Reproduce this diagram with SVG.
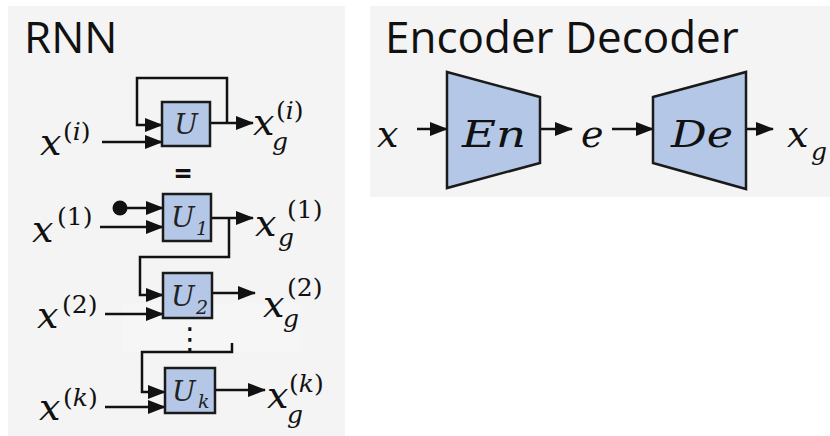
<svg xmlns="http://www.w3.org/2000/svg" width="830" height="436" viewBox="0 0 830 436">
  <defs>
    <marker id="ah" markerUnits="userSpaceOnUse" markerWidth="18" markerHeight="14" refX="17" refY="7" orient="auto" viewBox="0 0 18 14">
      <path d="M0,0 L18,7 L0,14 z" fill="#111"/>
    </marker>
  </defs>
  <style>
    .panel { fill: #f4f4f4; }
    .title { font-family: "Open Sans", "Liberation Sans", sans-serif; font-size: 44px; fill: #111; }
    .m { font-family: "DejaVu Serif", "Liberation Serif", serif; font-style: italic; font-size: 38px; fill: #111; }
    .s { font-family: "DejaVu Serif", "Liberation Serif", serif; font-style: italic; font-size: 25px; fill: #111; }
    .r { font-style: normal; }
    .box { fill: #b4c7e7; stroke: #1a1a1a; stroke-width: 2.5; }
    .blk { font-family: "DejaVu Serif", "Liberation Serif", serif; font-style: italic; font-size: 28px; fill: #222; }
    .sub { font-size: 19px; }
    .wire { fill: none; stroke: #111; stroke-width: 2.5; }
    .arr { marker-end: url(#ah); }
  </style>

  <!-- RNN panel -->
  <g id="rnn-panel">
    <rect class="panel" x="8" y="6" width="337" height="430"/>
    <rect x="123" y="303" width="177" height="49" fill="#f6f6f6"/>
    <text class="title" x="24" y="53">RNN</text>
    <text x="183" y="184" font-family="Open Sans, Liberation Sans, sans-serif" font-weight="bold" font-size="30" fill="#111" text-anchor="middle">=</text>
    <text x="190" y="349" font-family="DejaVu Sans, sans-serif" font-size="30" fill="#111" text-anchor="middle">⋮</text>
  </g>

  <!-- Encoder-decoder panel -->
  <g id="ed-panel">
    <rect class="panel" x="370" y="6" width="460" height="191"/>
    <text class="title" x="385" y="53" font-size="45">Encoder Decoder</text>
  </g>

  <!-- connectors -->
  <g id="wires">
    <!-- recurrent cell -->
    <path class="wire arr" d="M227,123 V78 H137 V125 H162"/>
    <path class="wire arr" d="M210,123 H253"/>
    <path class="wire arr" d="M102,142 H162"/>
    <!-- unrolled step 1 -->
    <circle cx="120" cy="208" r="7.5" fill="#111"/>
    <path class="wire arr" d="M120,208 H163"/>
    <path class="wire arr" d="M100,227 H163"/>
    <path class="wire arr" d="M211,218 H253"/>
    <path class="wire arr" d="M229,218 V257 H140 V295 H163"/>
    <!-- unrolled step 2 -->
    <path class="wire arr" d="M105,314 H163"/>
    <path class="wire arr" d="M212,293 H255"/>
    <!-- unrolled step k -->
    <path class="wire arr" d="M232,343 V352 H142 V392 H165"/>
    <path class="wire arr" d="M105,407 H165"/>
    <path class="wire arr" d="M215,390 H265"/>
    <!-- encoder / decoder -->
    <path class="wire arr" d="M417,129 H447"/>
    <path class="wire arr" d="M540,129 H572"/>
    <path class="wire arr" d="M612,129 H653"/>
    <path class="wire arr" d="M746,129 H773"/>
  </g>

  <!-- cells -->
  <g id="cell-u">
    <rect class="box" x="162" y="102" width="48" height="44"/>
    <text class="blk" x="186" y="134" text-anchor="middle">U</text>
  </g>
  <g id="cell-u1">
    <rect class="box" x="163" y="194" width="48" height="47"/>
    <text class="blk" x="171" y="227">U</text>
    <text class="blk sub r" x="196" y="235">1</text>
  </g>
  <g id="cell-u2">
    <rect class="box" x="163" y="273" width="49" height="45"/>
    <text class="blk" x="171" y="306">U</text>
    <text class="blk sub r" x="196" y="314">2</text>
  </g>
  <g id="cell-uk">
    <rect class="box" x="165" y="368" width="50" height="45"/>
    <text class="blk" x="172" y="401">U</text>
    <text class="blk sub" x="198" y="408">k</text>
  </g>

  <!-- inputs -->
  <g id="in-i">
    <text class="m" x="40" y="155">x</text>
    <text class="s" x="63" y="140"><tspan class="r">(</tspan>i<tspan class="r">)</tspan></text>
  </g>
  <g id="in-1">
    <text class="m" x="32" y="242">x</text>
    <text class="s" x="57" y="225"><tspan class="r">(1)</tspan></text>
  </g>
  <g id="in-2">
    <text class="m" x="37" y="328">x</text>
    <text class="s" x="62" y="313"><tspan class="r">(2)</tspan></text>
  </g>
  <g id="in-k">
    <text class="m" x="39" y="420">x</text>
    <text class="s" x="63" y="406"><tspan class="r">(</tspan>k<tspan class="r">)</tspan></text>
  </g>

  <!-- outputs -->
  <g id="out-i">
    <text class="m" x="253" y="135">x</text>
    <text class="s" x="272" y="150">g</text>
    <text class="s" x="276" y="119"><tspan class="r">(</tspan>i<tspan class="r">)</tspan></text>
  </g>
  <g id="out-1">
    <text class="m" x="255" y="236">x</text>
    <text class="s" x="278" y="246">g</text>
    <text class="s" x="287" y="218"><tspan class="r">(1)</tspan></text>
  </g>
  <g id="out-2">
    <text class="m" x="263" y="317">x</text>
    <text class="s" x="283" y="327">g</text>
    <text class="s" x="287" y="296"><tspan class="r">(2)</tspan></text>
  </g>
  <g id="out-k">
    <text class="m" x="267" y="408">x</text>
    <text class="s" x="287" y="423">g</text>
    <text class="s" x="289" y="392"><tspan class="r">(</tspan>k<tspan class="r">)</tspan></text>
  </g>

  <!-- encoder / decoder nodes -->
  <g id="in-x">
    <text class="m" x="377" y="147" font-size="42">x</text>
  </g>
  <g id="encoder">
    <polygon class="box" points="447,72 540,97 540,163 447,188"/>
    <text class="m" x="462" y="147" font-size="38" textLength="64" lengthAdjust="spacingAndGlyphs">En</text>
  </g>
  <g id="code-e">
    <text class="m" x="581" y="147" font-size="40">e</text>
  </g>
  <g id="decoder">
    <polygon class="box" points="653,97 746,72 746,189 653,163"/>
    <text class="m" x="671" y="147" font-size="38" textLength="62" lengthAdjust="spacingAndGlyphs">De</text>
  </g>
  <g id="out-xg">
    <text class="m" x="787" y="147" font-size="42">x</text>
    <text class="s" x="811" y="160" font-size="28">g</text>
  </g>
</svg>
